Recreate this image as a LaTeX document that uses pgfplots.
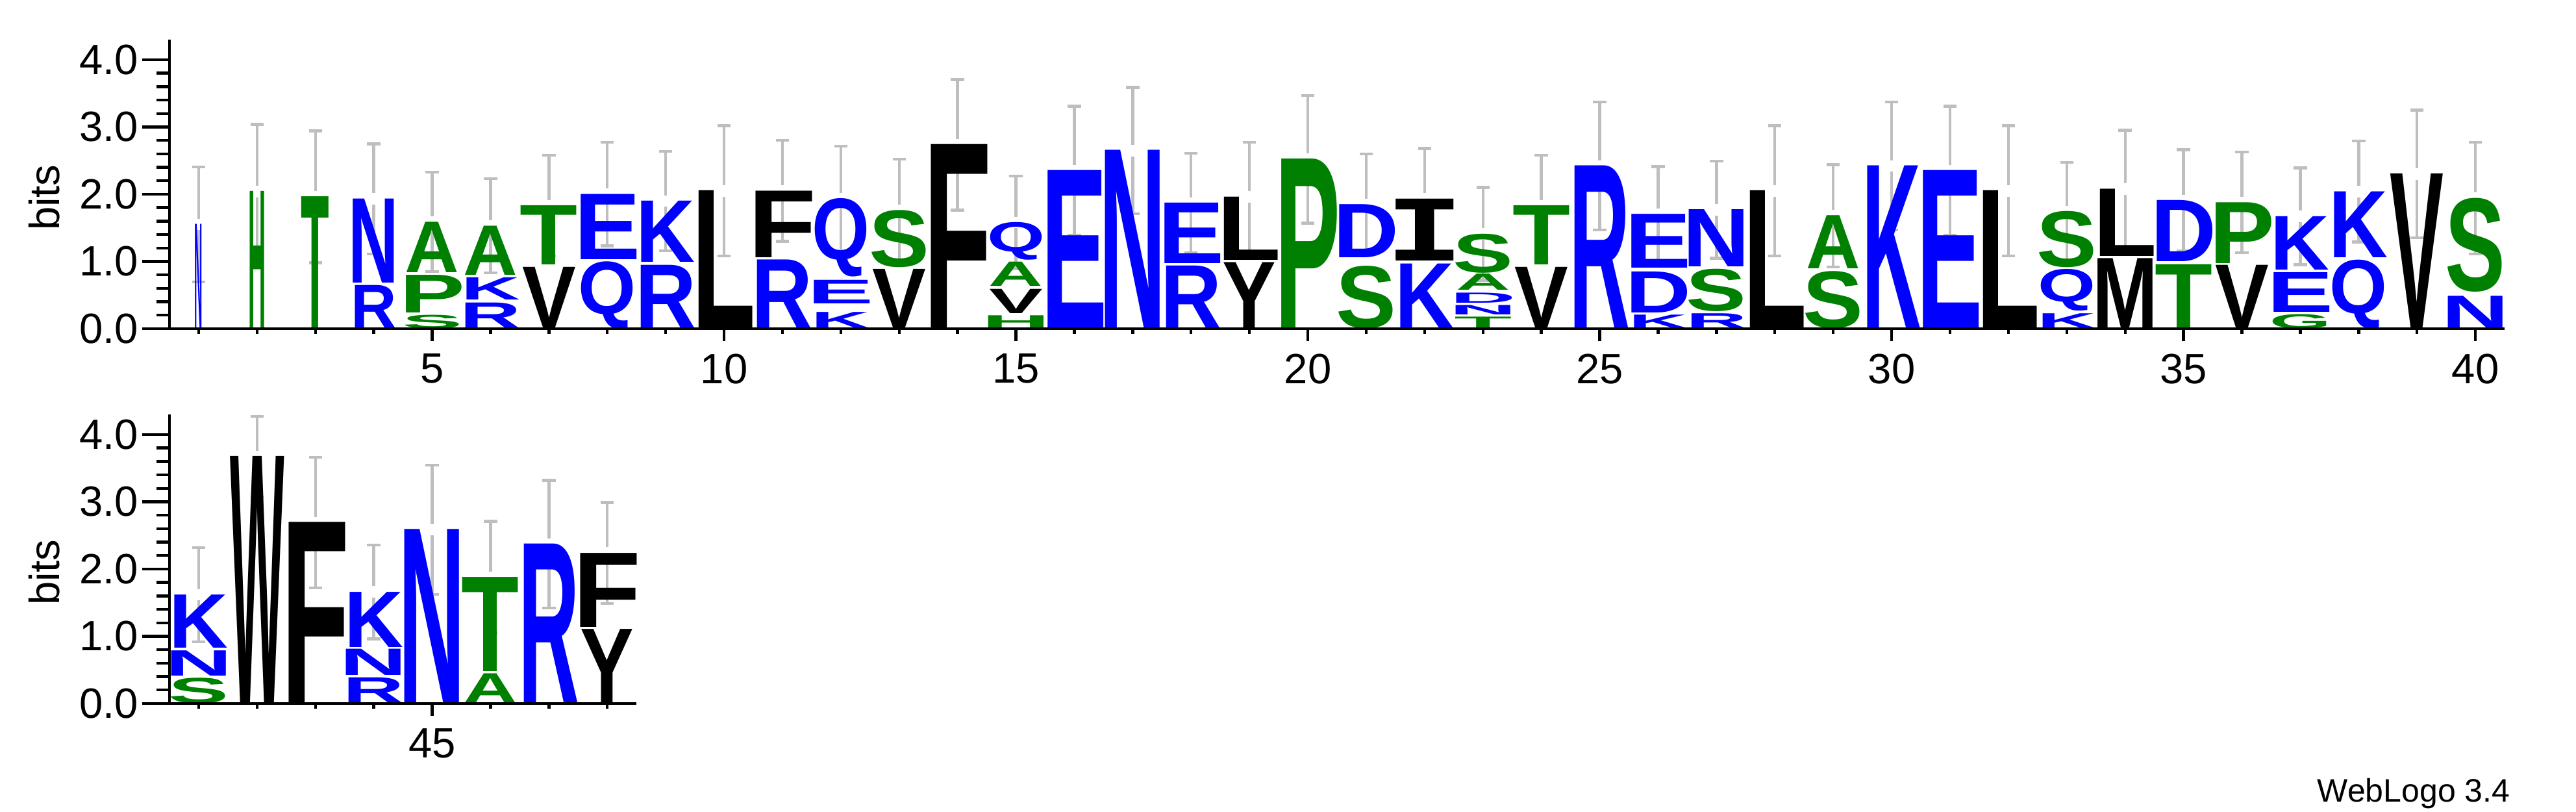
\documentclass[border=0pt]{standalone}
\usepackage{graphicx}
\usepackage{pgfplots}
\usepackage{pgfplotstable}
\pgfplotsset{compat=1.18}
\usepackage{fontspec}
\setmainfont{Liberation Sans}
\newfontfamily\serifI{DejaVu Sans Mono}

\definecolor{wlblue}{RGB}{0,0,255}
\definecolor{wlgreen}{RGB}{0,128,0}
\definecolor{errgray}{RGB}{190,190,190}

% colour of each residue, and the share of its advance width that is ink
\def\setres#1#2#3{\colorlet{cl#1}{#2}\expandafter\def\csname ink#1\endcsname{#3}}
\setres{A}{wlgreen}{0.99}
\setres{G}{wlgreen}{0.87}
\setres{H}{wlgreen}{0.79}
\setres{P}{wlgreen}{0.82}
\setres{S}{wlgreen}{0.89}
\setres{T}{wlgreen}{0.93}
\setres{D}{wlblue}{0.82}
\setres{E}{wlblue}{0.81}
\setres{K}{wlblue}{0.91}
\setres{N}{wlblue}{0.80}
\setres{Q}{wlblue}{0.93}
\setres{R}{wlblue}{0.88}
\setres{F}{black}{0.79}
\setres{I}{black}{0.67}
\setres{L}{black}{0.84}
\setres{M}{black}{0.82}
\setres{V}{black}{1.00}
\setres{W}{black}{0.99}
\setres{Y}{black}{1.00}

% stack top and error bar half length
\pgfplotstableread{
x y e
1 1.55 0.857
2 2.04 1.00
3 1.96 0.98
4 1.93 0.82
5 1.59 0.74
6 1.53 0.70
7 1.83 0.75
8 2.00 0.77
9 1.90 0.74
10 2.05 0.97
11 2.05 0.75
12 1.935 0.78
13 1.76 0.76
14 2.735 0.97
15 1.58 0.69
16 2.35 0.96
17 2.65 0.94
18 1.87 0.74
19 1.96 0.81
20 2.52 0.95
21 1.85 0.75
22 1.93 0.75
23 1.41 0.69
24 1.83 0.75
25 2.42 0.95
26 1.70 0.71
27 1.77 0.72
28 2.05 0.97
29 1.68 0.76
30 2.42 0.95
31 2.35 0.96
32 2.05 0.97
33 1.745 0.73
34 2.08 0.87
35 1.91 0.75
36 1.88 0.75
37 1.67 0.72
38 2.04 0.75
39 2.30 0.95
40 1.94 0.83
}\errA

\pgfplotstableread{
x y e
41 1.62 0.70
42 3.67 0.60
43 2.69 0.97
44 1.66 0.70
45 2.585 0.96
46 1.88 0.83
47 2.37 0.95
48 2.24 0.75
}\errB

% each error bar is drawn as two halves with a small gap at the stack top
\def\gap{0.085}
\pgfplotstablecreatecol[expr={\thisrow{y}+\gap}]{yu}\errA
\pgfplotstablecreatecol[expr={\thisrow{y}-\gap}]{yd}\errA
\pgfplotstablecreatecol[expr={\thisrow{e}-\gap}]{el}\errA
\pgfplotstablecreatecol[expr={\thisrow{y}+\gap}]{yu}\errB
\pgfplotstablecreatecol[expr={\thisrow{y}-\gap}]{yd}\errB
\pgfplotstablecreatecol[expr={\thisrow{e}-\gap}]{el}\errB

\newlength\xu \setlength\xu{22.475pt}
\newlength\yu \setlength\yu{25.875pt}
\newlength\lwd
\def\Ichar{I}
\newcommand\resglyph[1]{\edef\tmp{#1}\ifx\tmp\Ichar{\serifI\bfseries I}\else{\bfseries #1}\fi}

\pgfplotsset{
  letters/.style={
    scatter, only marks, mark=*, mark size=0pt,
    mark options={draw=none, fill=none},
    visualization depends on={value \thisrow{l}\as\lt},
    visualization depends on={value \thisrow{h}\as\lh},
    visualization depends on={value \thisrow{w}\as\lw},
    % the node sits at the marker's own origin (no "at": inside an axis
    % a bare (0,0) would mean axis cs:0,0)
    scatter/@pre marker code/.code={%
      \edef\inkv{\csname ink\lt\endcsname}%
      \pgfmathsetlength{\lwd}{\lw*0.92*\xu/\inkv}%
      \node[inner sep=0pt, outer sep=0pt, anchor=south]
        {\textcolor{cl\lt}{\resizebox*{\lwd}{\lh\yu}{\resglyph{\lt}}}};%
    },
    scatter/@post marker code/.code={},
  },
  errs/.style={
    draw=none, mark=none,
    error bars/.cd, y dir=#1, y explicit,
    error mark=-,
    error bar style={draw=errgray, line width=1.1pt},
    error mark options={rotate=90, draw=errgray, line width=1.1pt, mark size=2.55pt},
  },
  base axis/.style={
    x=22.475pt, y=25.875pt,
    ymin=0, ymax=4.3,
    axis line style={line width=1.1pt, -},
    tick align=outside,
    major tick style={line width=1.1pt, black},
    minor tick style={line width=1.1pt, black},
    tick label style={font=\fontsize{16.3}{19}\selectfont},
    /pgf/number format/assume math mode=true,
    clip=false,
  },
  y side/.style={
    base axis,
    axis y line*=left, axis x line=none,
    major tick length=10.5pt, minor tick length=5pt,
    ytick={0,1,2,3,4}, minor y tick num=4,
    y tick label style={/pgf/number format/.cd, fixed, fixed zerofill, precision=1, /tikz/.cd},
    yticklabel style={inner sep=0pt, anchor=east, xshift=-1.3pt},
    ylabel={bits},
    ylabel style={font=\fontsize{16.3}{19}\selectfont, anchor=center},
  },
  x side/.style={
    base axis,
    axis x line*=bottom, axis y line=none,
    major tick length=4.75pt, minor tick length=2pt,
    xticklabel style={inner sep=0pt, anchor=north, yshift=-4.75pt},
  },
}

\begin{document}
\begin{tikzpicture}
\useasboundingbox (0,0) rectangle (991.75pt,312.5pt);

% positions 1-40
\begin{axis}[y side, at={(65.25pt,186pt)}, anchor=south west,
  xmin=0.5, xmax=40.5,
  ylabel style={at={(axis cs:-1.64,1.95)}}]
% letters: position, base, height (bits), stack width share, residue
\addplot[letters] table {
x y h w l
1 0 1.55 0.12 N
2 0 2.04 0.26 H
3 0 1.96 0.49 T
4 0 0.64 0.75 R
4 0.68 1.25 0.75 N
5 0 0.20 1 S
5 0.24 0.56 1 P
5 0.84 0.75 1 A
6 0 0.38 1 R
6 0.43 0.33 1 K
6 0.80 0.73 1 A
7 0 0.91 1 V
7 0.95 0.88 1 T
8 0 1.00 1 Q
8 1.03 0.97 1 E
9 0 0.94 1 R
9 0.99 0.91 1 K
10 0 2.05 1 L
11 0 1.02 1 R
11 1.06 0.99 1 F
12 0 0.24 1 K
12 0.37 0.35 1 E
12 0.77 1.165 1 Q
13 0 0.88 1 V
13 0.91 0.85 1 S
14 0 2.735 1 F
15 0 0.19 1 H
15 0.23 0.36 1 V
15 0.63 0.36 1 A
15 1.02 0.56 1 Q
16 0 2.35 1 E
17 0 2.65 1 N
18 0 0.93 1 R
18 0.97 0.90 1 E
19 0 0.98 1 Y
19 1.02 0.94 1 L
20 0 2.52 1 P
21 0 0.93 1 S
21 1.06 0.79 1 D
22 0 0.96 1 K
22 1.01 0.92 1 I
23 0 0.17 1 T
23 0.21 0.14 1 N
23 0.38 0.15 1 D
23 0.57 0.24 1 A
23 0.83 0.58 1 S
24 0 0.91 1 V
24 0.95 0.88 1 T
25 0 2.42 1 R
26 0 0.20 1 K
26 0.24 0.61 1 D
26 0.90 0.80 1 E
27 0 0.22 1 R
27 0.26 0.63 1 S
27 0.92 0.85 1 N
28 0 2.05 1 L
29 0 0.85 1 S
29 0.89 0.79 1 A
30 0 2.42 1 K
31 0 2.35 1 E
32 0 2.05 1 L
33 0 0.22 1 K
33 0.26 0.62 1 Q
33 0.91 0.835 1 S
34 0 1.04 1 M
34 1.08 1.00 1 L
35 0 0.95 1 T
35 1.00 0.91 1 D
36 0 0.94 1 V
36 0.975 0.905 1 P
37 0 0.21 1 G
37 0.25 0.59 1 E
37 0.876 0.794 1 K
38 0 1.02 1 Q
38 1.06 0.98 1 K
39 0 2.30 1 V
40 0 0.48 1 N
40 0.545 1.395 1 S
};
\addplot[errs=plus] table[x=x, y=yu, y error=el] {\errA};
\addplot[errs=minus] table[x=x, y=yd, y error=el] {\errA};
\end{axis}
\begin{axis}[x side, at={(65.25pt,186pt)}, anchor=south west,
  xmin=0.5, xmax=40.5,
  xtick={5,10,...,40}, minor xtick={1,...,40}]
\end{axis}

% positions 41-48
\begin{axis}[y side, at={(65.25pt,41.75pt)}, anchor=south west,
  xmin=40.5, xmax=48.5,
  ylabel style={at={(axis cs:38.36,1.95)}}]
\addplot[letters] table {
x y h w l
41 0 0.38 1 S
41 0.41 0.375 1 N
41 0.83 0.79 1 K
42 0 3.67 1 W
43 0 2.69 1 F
44 0 0.38 1 R
44 0.42 0.39 1 N
44 0.84 0.82 1 K
45 0 2.585 1 N
46 0 0.44 1 A
46 0.48 1.40 1 T
47 0 2.37 1 R
48 0 1.10 1 Y
48 1.14 1.10 1 F
};
\addplot[errs=plus] table[x=x, y=yu, y error=el] {\errB};
\addplot[errs=minus] table[x=x, y=yd, y error=el] {\errB};
\end{axis}
\begin{axis}[x side, at={(65.25pt,41.75pt)}, anchor=south west,
  xmin=40.5, xmax=48.5,
  xtick={45}, minor xtick={41,...,48}]
\end{axis}

\node[anchor=base east, inner sep=0pt, font=\fontsize{12.5}{15}\selectfont]
  at (966.5pt,3.75pt) {WebLogo 3.4};
\end{tikzpicture}
\end{document}
